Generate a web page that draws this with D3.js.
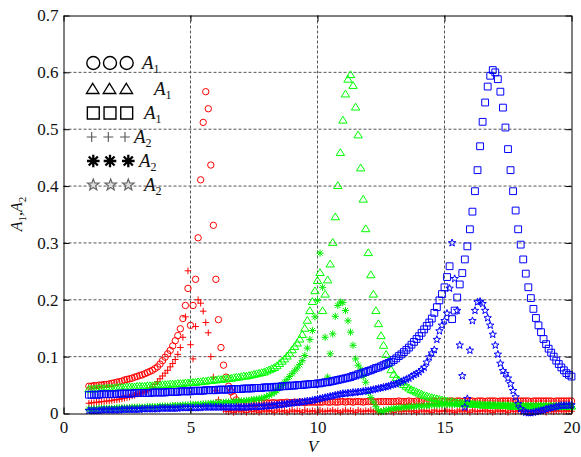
<!DOCTYPE html>
<html><head><meta charset="utf-8">
<script src="https://cdn.jsdelivr.net/npm/d3@7"></script>
<style>body{margin:0;background:#fff}svg{display:block}</style>
</head><body>
<script>
// excitation voltage V (x values)
const V = [
1.0,1.1,1.2,1.3,1.4,1.5,1.6,1.7,1.8,1.9,
2.0,2.1,2.2,2.3,2.4,2.5,2.6,2.7,2.8,2.9,
3.0,3.1,3.2,3.3,3.4,3.5,3.6,3.7,3.8,3.9,
4.0,4.1,4.2,4.3,4.4,4.5,4.6,4.7,4.8,4.9,
5.0,5.1,5.2,5.3,5.4,5.5,5.6,5.7,5.8,5.9,
6.0,6.1,6.2,6.3,6.4,6.5,6.6,6.7,6.8,6.9,
7.0,7.1,7.2,7.3,7.4,7.5,7.6,7.7,7.8,7.9,
8.0,8.1,8.2,8.3,8.4,8.5,8.6,8.7,8.8,8.9,
9.0,9.1,9.2,9.3,9.4,9.5,9.6,9.7,9.8,9.9,
10.0,10.1,10.2,10.3,10.4,10.5,10.6,10.7,10.8,10.9,
11.0,11.1,11.2,11.3,11.4,11.5,11.6,11.7,11.8,11.9,
12.0,12.1,12.2,12.3,12.4,12.5,12.6,12.7,12.8,12.9,
13.0,13.1,13.2,13.3,13.4,13.5,13.6,13.7,13.8,13.9,
14.0,14.1,14.2,14.3,14.4,14.5,14.6,14.7,14.8,14.9,
15.0,15.1,15.2,15.3,15.4,15.5,15.6,15.7,15.8,15.9,
16.0,16.1,16.2,16.3,16.4,16.5,16.6,16.7,16.8,16.9,
17.0,17.1,17.2,17.3,17.4,17.5,17.6,17.7,17.8,17.9,
18.0,18.1,18.2,18.3,18.4,18.5,18.6,18.7,18.8,18.9,
19.0,19.1,19.2,19.3,19.4,19.5,19.6,19.7,19.8,19.9,
20.0];

// red circles: A1 (first resonance)
const redA1 = [
0.048,0.048,0.049,0.049,0.050,0.050,0.051,0.051,0.052,0.053,
0.054,0.055,0.056,0.057,0.059,0.060,0.061,0.062,0.064,0.065,
0.067,0.068,0.070,0.072,0.074,0.076,0.079,0.082,0.087,0.093,
0.099,0.105,0.111,0.119,0.128,0.137,0.149,0.167,0.190,0.220,
0.155,0.190,0.236,0.309,0.411,0.512,0.566,0.536,0.437,0.331,
0.236,0.165,0.116,0.085,0.064,0.048,0.038,0.030,0.024,0.020,
0.018,0.018,0.017,0.018,0.018,0.017,0.018,0.018,0.019,0.018,
0.019,0.018,0.019,0.019,0.018,0.019,0.019,0.019,0.020,0.019,
0.019,0.020,0.019,0.020,0.020,0.019,0.020,0.020,0.020,0.020,
0.020,0.020,0.020,0.021,0.020,0.020,0.021,0.020,0.020,0.021,
0.021,0.020,0.021,0.021,0.020,0.021,0.021,0.021,0.020,0.021,
0.021,0.021,0.021,0.020,0.021,0.021,0.021,0.021,0.021,0.021,
0.021,0.021,0.022,0.021,0.021,0.021,0.022,0.021,0.021,0.022,
0.021,0.022,0.021,0.021,0.022,0.021,0.022,0.021,0.022,0.021,
0.022,0.021,0.022,0.022,0.021,0.022,0.022,0.021,0.022,0.022,
0.022,0.022,0.021,0.022,0.022,0.022,0.021,0.022,0.022,0.022,
0.022,0.021,0.022,0.022,0.022,0.022,0.022,0.021,0.022,0.022,
0.022,0.022,0.022,0.022,0.021,0.022,0.022,0.022,0.022,0.022,
0.022,0.022,0.022,0.021,0.022,0.022,0.022,0.022,0.022,0.022,
0.022];

// green triangles: A1 (second resonance)
const greenA1 = [
0.043,0.043,0.043,0.044,0.044,0.044,0.044,0.045,0.045,0.045,
0.045,0.046,0.046,0.046,0.046,0.047,0.047,0.047,0.047,0.048,
0.048,0.048,0.048,0.049,0.049,0.049,0.050,0.050,0.050,0.051,
0.051,0.051,0.052,0.052,0.052,0.053,0.053,0.053,0.054,0.054,
0.055,0.055,0.055,0.056,0.056,0.057,0.057,0.058,0.058,0.059,
0.059,0.060,0.060,0.061,0.061,0.062,0.062,0.063,0.064,0.064,
0.065,0.066,0.066,0.067,0.068,0.069,0.070,0.071,0.072,0.073,
0.075,0.077,0.079,0.081,0.084,0.088,0.092,0.096,0.101,0.106,
0.112,0.118,0.124,0.131,0.139,0.150,0.164,0.181,0.197,0.216,
0.234,0.248,0.181,0.210,0.235,0.263,0.301,0.346,0.401,0.459,
0.516,0.562,0.588,0.596,0.577,0.539,0.490,0.432,0.377,0.325,
0.283,0.244,0.210,0.181,0.158,0.137,0.120,0.104,0.089,0.077,
0.069,0.063,0.059,0.055,0.051,0.048,0.045,0.042,0.040,0.038,
0.036,0.034,0.032,0.031,0.029,0.028,0.027,0.026,0.025,0.024,
0.023,0.022,0.021,0.021,0.020,0.019,0.019,0.018,0.018,0.017,
0.017,0.017,0.016,0.016,0.016,0.015,0.015,0.015,0.015,0.014,
0.014,0.014,0.014,0.014,0.014,0.014,0.013,0.013,0.013,0.013,
0.013,0.013,0.013,0.013,0.013,0.013,0.013,0.013,0.013,0.013,
0.013,0.013,0.013,0.013,0.013,0.013,0.013,0.013,0.013,0.013,
0.013];

// blue squares: A1 (third resonance)
const blueA1 = [
0.033,0.033,0.033,0.033,0.033,0.034,0.034,0.034,0.034,0.034,
0.034,0.034,0.035,0.035,0.035,0.035,0.035,0.035,0.036,0.036,
0.036,0.036,0.036,0.036,0.036,0.037,0.037,0.037,0.037,0.037,
0.037,0.038,0.038,0.038,0.038,0.038,0.039,0.039,0.039,0.039,
0.039,0.040,0.040,0.040,0.040,0.040,0.041,0.041,0.041,0.041,
0.041,0.042,0.042,0.042,0.042,0.042,0.043,0.043,0.043,0.043,
0.043,0.044,0.044,0.044,0.044,0.045,0.045,0.045,0.045,0.046,
0.046,0.046,0.046,0.047,0.047,0.047,0.048,0.048,0.048,0.049,
0.049,0.049,0.050,0.050,0.050,0.051,0.051,0.052,0.052,0.052,
0.053,0.053,0.054,0.055,0.055,0.056,0.057,0.058,0.059,0.060,
0.061,0.062,0.063,0.064,0.066,0.067,0.069,0.070,0.072,0.073,
0.075,0.076,0.078,0.080,0.081,0.083,0.085,0.087,0.089,0.091,
0.094,0.097,0.101,0.104,0.108,0.112,0.116,0.121,0.126,0.131,
0.136,0.142,0.148,0.154,0.160,0.167,0.177,0.187,0.199,0.210,
0.222,0.240,0.259,0.166,0.181,0.204,0.227,0.247,0.271,0.294,
0.324,0.355,0.391,0.428,0.470,0.513,0.547,0.575,0.594,0.604,
0.600,0.588,0.566,0.538,0.503,0.465,0.428,0.391,0.357,0.324,
0.297,0.271,0.246,0.222,0.203,0.184,0.168,0.155,0.143,0.131,
0.122,0.114,0.107,0.100,0.093,0.087,0.081,0.076,0.071,0.068,
0.065];

// red plus: A2 (first resonance)
const redA2 = [
0.018,0.019,0.019,0.020,0.020,0.021,0.021,0.022,0.022,0.023,
0.024,0.024,0.025,0.026,0.027,0.028,0.029,0.031,0.032,0.034,
0.035,0.037,0.039,0.041,0.044,0.047,0.051,0.056,0.061,0.066,
0.071,0.076,0.082,0.088,0.095,0.104,0.116,0.134,0.170,0.251,
0.121,0.096,0.153,0.200,0.194,0.180,0.160,0.142,0.100,0.064,
0.040,0.024,0.013,0.007,0.004,0.003,0.005,0.002,0.004,0.006,
0.003,0.005,0.002,0.006,0.004,0.003,0.005,0.002,0.004,0.006,
0.003,0.005,0.004,0.002,0.006,0.004,0.003,0.005,0.002,0.004,
0.006,0.003,0.005,0.004,0.002,0.006,0.004,0.003,0.005,0.004,
0.002,0.006,0.004,0.003,0.005,0.004,0.006,0.003,0.005,0.002,
0.004,0.006,0.003,0.005,0.004,0.002,0.006,0.004,0.003,0.005,
0.004,0.006,0.003,0.005,0.002,0.004,0.006,0.003,0.005,0.004,
0.002,0.006,0.004,0.003,0.005,0.004,0.006,0.003,0.005,0.002,
0.004,0.006,0.003,0.005,0.004,0.002,0.006,0.004,0.003,0.005,
0.004,0.006,0.003,0.005,0.002,0.004,0.006,0.003,0.005,0.004,
0.002,0.006,0.004,0.003,0.005,0.004,0.006,0.003,0.005,0.002,
0.004,0.006,0.003,0.005,0.004,0.002,0.006,0.004,0.003,0.005,
0.004,0.006,0.003,0.005,0.002,0.004,0.006,0.003,0.005,0.004,
0.002,0.006,0.004,0.003,0.005,0.004,0.006,0.003,0.005,0.004,
0.004];

// green asterisks: A2 (second resonance)
const greenA2 = [
0.008,0.008,0.008,0.008,0.009,0.009,0.009,0.009,0.009,0.009,
0.009,0.010,0.010,0.010,0.010,0.010,0.010,0.011,0.011,0.011,
0.011,0.011,0.011,0.012,0.012,0.012,0.012,0.012,0.013,0.013,
0.013,0.013,0.013,0.014,0.014,0.014,0.014,0.015,0.015,0.015,
0.015,0.016,0.016,0.016,0.016,0.017,0.017,0.017,0.018,0.018,
0.018,0.019,0.019,0.019,0.020,0.020,0.020,0.021,0.021,0.022,
0.022,0.022,0.023,0.023,0.024,0.025,0.025,0.026,0.027,0.028,
0.030,0.032,0.034,0.037,0.040,0.045,0.050,0.055,0.060,0.065,
0.070,0.075,0.080,0.086,0.093,0.102,0.115,0.130,0.146,0.170,
0.199,0.282,0.222,0.134,0.064,0.105,0.140,0.171,0.190,0.196,
0.195,0.181,0.163,0.143,0.120,0.096,0.085,0.078,0.065,0.055,
0.037,0.028,0.020,0.012,0.005,0.003,0.004,0.006,0.007,0.008,
0.009,0.009,0.010,0.010,0.011,0.011,0.012,0.012,0.012,0.013,
0.013,0.013,0.014,0.014,0.014,0.015,0.015,0.015,0.015,0.016,
0.016,0.016,0.016,0.016,0.016,0.016,0.016,0.016,0.016,0.016,
0.016,0.016,0.016,0.015,0.015,0.015,0.015,0.015,0.015,0.015,
0.015,0.015,0.014,0.014,0.014,0.014,0.014,0.014,0.014,0.014,
0.014,0.013,0.013,0.013,0.013,0.013,0.013,0.013,0.013,0.013,
0.013,0.012,0.012,0.012,0.012,0.012,0.012,0.012,0.012,0.012,
0.012];

// blue stars: A2 (third resonance)
const blueA2 = [
0.005,0.005,0.005,0.005,0.005,0.006,0.006,0.006,0.006,0.006,
0.006,0.006,0.006,0.007,0.007,0.007,0.007,0.007,0.007,0.007,
0.007,0.008,0.008,0.008,0.008,0.008,0.008,0.008,0.009,0.009,
0.009,0.009,0.009,0.009,0.009,0.009,0.010,0.010,0.010,0.010,
0.010,0.010,0.010,0.010,0.010,0.011,0.011,0.011,0.011,0.011,
0.011,0.011,0.011,0.011,0.011,0.011,0.011,0.011,0.011,0.011,
0.011,0.011,0.011,0.011,0.012,0.012,0.012,0.012,0.012,0.013,
0.013,0.013,0.014,0.014,0.015,0.015,0.016,0.016,0.017,0.018,
0.018,0.019,0.019,0.020,0.020,0.021,0.022,0.022,0.023,0.024,
0.025,0.026,0.027,0.028,0.029,0.030,0.031,0.032,0.033,0.034,
0.035,0.035,0.036,0.036,0.037,0.037,0.038,0.038,0.039,0.040,
0.040,0.041,0.042,0.043,0.044,0.045,0.046,0.047,0.048,0.050,
0.051,0.052,0.054,0.056,0.058,0.060,0.062,0.065,0.068,0.070,
0.073,0.077,0.081,0.090,0.099,0.106,0.112,0.130,0.145,0.155,
0.163,0.176,0.220,0.300,0.237,0.181,0.120,0.066,0.011,0.026,
0.111,0.163,0.181,0.196,0.197,0.193,0.181,0.168,0.155,0.139,
0.120,0.104,0.088,0.075,0.070,0.062,0.052,0.040,0.029,0.017,
0.008,0.004,0.002,0.001,0.001,0.002,0.003,0.004,0.005,0.006,
0.008,0.009,0.010,0.011,0.012,0.013,0.014,0.014,0.014,0.014,
0.015];

const xTicks = [0, 5, 10, 15, 20];
const xTickLabels = ["0", "5", "10", "15", "20"];
const yTicks = [0, 0.1, 0.2, 0.3, 0.4, 0.5, 0.6, 0.7];
const yTickLabels = ["0", "0.1", "0.2", "0.3", "0.4", "0.5", "0.6", "0.7"];
const gridXValues = [5, 10, 15];
const gridYValues = [0.1, 0.2, 0.3, 0.4, 0.5, 0.6];
const legendSubs = ["1", "1", "1", "2", "2", "2"];

const W = 581, H = 457;
const FONT = "'Liberation Serif','Times New Roman',serif";
const x = d3.scaleLinear().domain([0, 20]).range([63.5, 571.5]);
const y = d3.scaleLinear().domain([0, 0.7]).range([413.5, 15.5]);

const svg = d3.select("body").append("svg").attr("width", W).attr("height", H);
svg.append("rect").attr("width", W).attr("height", H).attr("fill", "#fff");

// grid
const grid = svg.append("g").attr("stroke", "#555").attr("stroke-width", 1).attr("stroke-dasharray", "3,2");
grid.selectAll("line.gx").data(gridXValues).join("line")
  .attr("x1", d => x(d)).attr("x2", d => x(d)).attr("y1", y(0.7)).attr("y2", y(0));
grid.selectAll("line.gy").data(gridYValues).join("line")
  .attr("y1", d => y(d)).attr("y2", d => y(d)).attr("x1", x(0)).attr("x2", x(20));

// marker shapes
function starPath(ro, ri) {
  let p = "";
  for (let k = 0; k < 10; k++) {
    const a = (-90 + 36 * k) * Math.PI / 180, r = k % 2 ? ri : ro;
    p += (k ? "L" : "M") + (r * Math.cos(a)).toFixed(2) + "," + (r * Math.sin(a)).toFixed(2);
  }
  return p + "Z";
}
const shapes = {
  tri: s => `M0,${-3.8*s}L${4.2*s},${3*s}L${-4.2*s},${3*s}Z`,
  sq: s => `M${-3.4*s},${-3.4*s}h${6.8*s}v${6.8*s}h${-6.8*s}Z`,
  plus: s => `M${-3.3*s},0H${3.3*s}M0,${-3.3*s}V${3.3*s}`,
  ast: s => `M${-3.6*s},0H${3.6*s}M0,${-3.6*s}V${3.6*s}M${-2.6*s},${-2.6*s}L${2.6*s},${2.6*s}M${-2.6*s},${2.6*s}L${2.6*s},${-2.6*s}`,
  star: s => starPath(3.9 * s, 1.6 * s)
};

const series = [
  { vals: redA1, color: "#ff0000", shape: "circle" },
  { vals: redA2, color: "#ff0000", shape: "plus" },
  { vals: greenA1, color: "#00ff00", shape: "tri" },
  { vals: greenA2, color: "#00ee00", shape: "ast" },
  { vals: blueA1, color: "#0000ff", shape: "sq" },
  { vals: blueA2, color: "#0000ff", shape: "star" }
];

series.forEach(s => {
  const g = svg.append("g").attr("fill", "none").attr("stroke", s.color).attr("stroke-width", 1);
  const pts = V.map((v, i) => [v, s.vals[i]]);
  if (s.shape === "circle") {
    g.selectAll("circle").data(pts).join("circle")
      .attr("cx", d => x(d[0])).attr("cy", d => y(d[1])).attr("r", 3.2);
  } else {
    const dpath = shapes[s.shape](1);
    g.selectAll("path").data(pts).join("path")
      .attr("transform", d => `translate(${x(d[0])},${y(d[1])})`).attr("d", dpath);
  }
});

// axes
function styleAxis(g) {
  g.attr("font-family", FONT).attr("font-size", 17);
  g.select(".domain").attr("stroke", "#000");
  g.selectAll(".tick line").attr("stroke", "#000");
  g.selectAll(".tick text").attr("fill", "#111");
}
svg.append("g").attr("transform", `translate(${x(0)},0)`)
  .call(d3.axisLeft(y).tickValues(yTicks).tickFormat((d, i) => yTickLabels[i]).tickSizeInner(-6).tickSizeOuter(0).tickPadding(5))
  .call(styleAxis);
svg.append("g").attr("transform", `translate(0,${y(0)})`)
  .call(d3.axisBottom(x).tickValues(xTicks).tickFormat((d, i) => xTickLabels[i]).tickSizeInner(-6).tickSizeOuter(0).tickPadding(7))
  .call(styleAxis);
svg.append("g").attr("transform", `translate(${x(20)},0)`)
  .call(d3.axisRight(y).tickValues(yTicks).tickFormat("").tickSizeInner(-6).tickSizeOuter(0))
  .call(styleAxis);
svg.append("g").attr("transform", `translate(0,${y(0.7)})`)
  .call(d3.axisTop(x).tickValues(xTicks).tickFormat("").tickSizeInner(-6).tickSizeOuter(0))
  .call(styleAxis);

// axis titles
svg.append("text").attr("x", 313).attr("y", 451.5).attr("text-anchor", "middle")
  .attr("font-family", FONT).attr("font-size", 17).attr("font-style", "italic").attr("fill", "#111").text("V");
const yl = svg.append("text").attr("transform", "translate(22,214) rotate(-90)").attr("text-anchor", "middle")
  .attr("font-family", FONT).attr("font-size", 16).attr("fill", "#111");
yl.append("tspan").attr("font-style", "italic").text("A");
yl.append("tspan").attr("font-size", 11).attr("dy", 4).text("1");
yl.append("tspan").attr("dy", -4).text(",");
yl.append("tspan").attr("font-style", "italic").text("A");
yl.append("tspan").attr("font-size", 11).attr("dy", 4).text("2");

// legend
const legendRows = [
  { cy: 63, xs: [93.3, 110, 126.7], tx: 142, kind: "circle" },
  { cy: 89, xs: [92.7, 109.5, 126.3], tx: 154, kind: "tri" },
  { cy: 113, xs: [93.3, 110, 126.7], tx: 144, kind: "sq" },
  { cy: 137, xs: [91.7, 108.3, 125], tx: 134, kind: "plus" },
  { cy: 161, xs: [93.3, 110, 128.3], tx: 139, kind: "ast" },
  { cy: 185, xs: [93.3, 110.7, 128.3], tx: 144, kind: "star" }
];
const lg = svg.append("g");
legendRows.forEach((r, i) => {
  r.xs.forEach(cx => {
    if (r.kind === "circle") {
      lg.append("circle").attr("cx", cx).attr("cy", r.cy).attr("r", 6.5)
        .attr("fill", "none").attr("stroke", "#000").attr("stroke-width", 1.4);
    } else {
      const sc = { tri: 1.5, sq: 1.75, plus: 1.5, ast: 1.75, star: 1.55 }[r.kind];
      const st = { tri: "#000", sq: "#000", plus: "#555", ast: "#000", star: "#666" }[r.kind];
      const sw = { tri: 1.3, sq: 1.4, plus: 1.1, ast: 2.3, star: 1.2 }[r.kind];
      lg.append("path").attr("transform", `translate(${cx},${r.cy})`).attr("d", shapes[r.kind](sc))
        .attr("fill", r.kind === "star" ? "#ddd" : "none").attr("stroke", st).attr("stroke-width", sw);
    }
  });
  const t = lg.append("text").attr("x", r.tx).attr("y", r.cy + 6)
    .attr("font-family", FONT).attr("font-size", 19).attr("fill", "#111");
  t.append("tspan").attr("font-style", "italic").text("A");
  t.append("tspan").attr("font-size", 12).attr("dy", 4).text(legendSubs[i]);
});
</script>
</body></html>
